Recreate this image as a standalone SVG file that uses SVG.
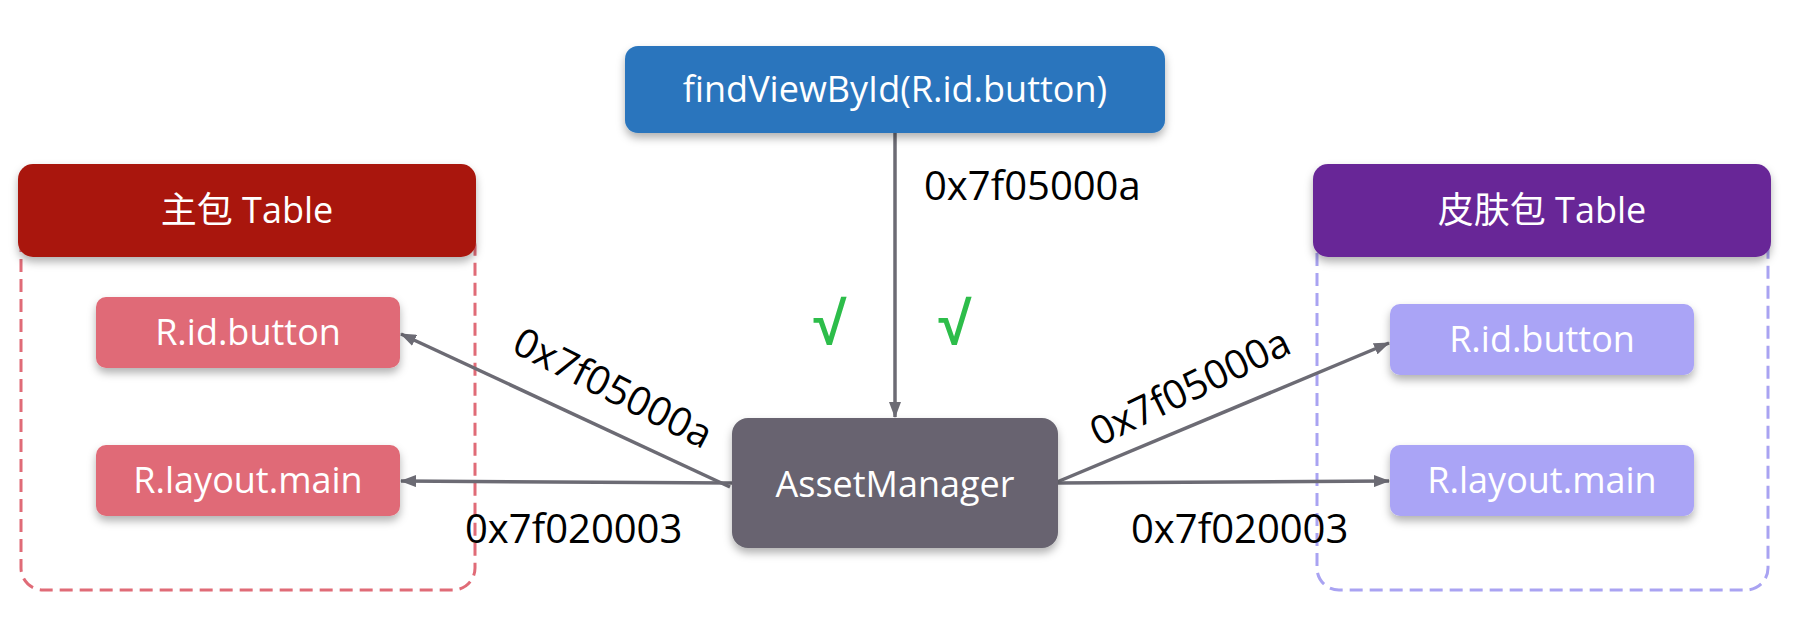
<svg xmlns="http://www.w3.org/2000/svg" width="1804" height="626" viewBox="0 0 1804 626">
<defs>
  <filter id="sh" x="-10%" y="-20%" width="120%" height="150%">
    <feDropShadow dx="0" dy="5" stdDeviation="4" flood-color="#000" flood-opacity="0.3"/>
  </filter>
  <marker id="ah" viewBox="0 0 16 12" refX="15" refY="6" markerWidth="16" markerHeight="12" markerUnits="userSpaceOnUse" orient="auto">
    <path d="M0,0 L16,6 L0,12 Z" fill="#6c6b74"/>
  </marker>
  <style>
    .t { font-family: "Open Sans", "Noto Sans CJK SC", "Liberation Sans", sans-serif; fill: #ffffff; font-size: 36px; text-anchor: middle; }
    .lbl { font-family: "Open Sans", "Liberation Sans", sans-serif; fill: #000000; font-size: 40px; }
    .conn { stroke: #6c6b74; stroke-width: 3.5; fill: none; marker-end: url(#ah); }
    .chk { font-family: "Liberation Sans", sans-serif; font-weight: bold; fill: #2dbd4a; font-size: 60px; text-anchor: middle; }
  </style>
</defs>
<rect width="1804" height="626" fill="#ffffff"/>

<g id="main-container">
  <rect x="21" y="225" width="454" height="365" rx="22" fill="none" stroke="#e06b77" stroke-width="3" stroke-dasharray="13 7"/>
</g>
<g id="skin-container">
  <rect x="1317" y="225" width="451" height="365" rx="22" fill="none" stroke="#a9a3f2" stroke-width="3" stroke-dasharray="13 7"/>
</g>

<g id="connectors">
  <line class="conn" x1="895" y1="133" x2="895" y2="417"/>
  <line class="conn" x1="730" y1="487" x2="401" y2="334"/>
  <line class="conn" x1="732" y1="483" x2="401" y2="481"/>
  <line class="conn" x1="1057" y1="482" x2="1389" y2="343"/>
  <line class="conn" x1="1057" y1="483" x2="1389" y2="481"/>
</g>

<g id="labels">
  <text class="lbl" x="924" y="200">0x7f05000a</text>
  <text class="lbl" text-anchor="middle" transform="translate(613,388) rotate(27)" y="14">0x7f05000a</text>
  <text class="lbl" text-anchor="middle" transform="translate(1190,387) rotate(-26)" y="14">0x7f05000a</text>
  <text class="lbl" x="465" y="543">0x7f020003</text>
  <text class="lbl" x="1131" y="543">0x7f020003</text>
  <text class="chk" x="830" y="344">√</text>
  <text class="chk" x="955" y="344">√</text>
</g>

<g id="findViewById">
  <rect x="625" y="46" width="540" height="87" rx="13" fill="#2a75bd" filter="url(#sh)"/>
  <text class="t" x="895" y="102">findViewById(R.id.button)</text>
</g>

<g id="main-table">
  <rect x="18" y="164" width="458" height="93" rx="15" fill="#a9170f" filter="url(#sh)"/>
  <text class="t" x="247" y="223">主包 Table</text>
</g>
<g id="main-id-button">
  <rect x="96" y="297" width="304" height="71" rx="10" fill="#e06b77" filter="url(#sh)"/>
  <text class="t" x="248" y="345">R.id.button</text>
</g>
<g id="main-layout-main">
  <rect x="96" y="445" width="304" height="71" rx="10" fill="#e06b77" filter="url(#sh)"/>
  <text class="t" x="248" y="493">R.layout.main</text>
</g>

<g id="asset-manager">
  <rect x="732" y="418" width="326" height="130" rx="16" fill="#67646f" filter="url(#sh)"/>
  <text class="t" x="895" y="497">AssetManager</text>
</g>

<g id="skin-table">
  <rect x="1313" y="164" width="458" height="93" rx="15" fill="#682897" filter="url(#sh)"/>
  <text class="t" x="1542" y="223">皮肤包 Table</text>
</g>
<g id="skin-id-button">
  <rect x="1390" y="304" width="304" height="71" rx="10" fill="#aaa4f6" filter="url(#sh)"/>
  <text class="t" x="1542" y="352">R.id.button</text>
</g>
<g id="skin-layout-main">
  <rect x="1390" y="445" width="304" height="71" rx="10" fill="#aaa4f6" filter="url(#sh)"/>
  <text class="t" x="1542" y="493">R.layout.main</text>
</g>
</svg>
